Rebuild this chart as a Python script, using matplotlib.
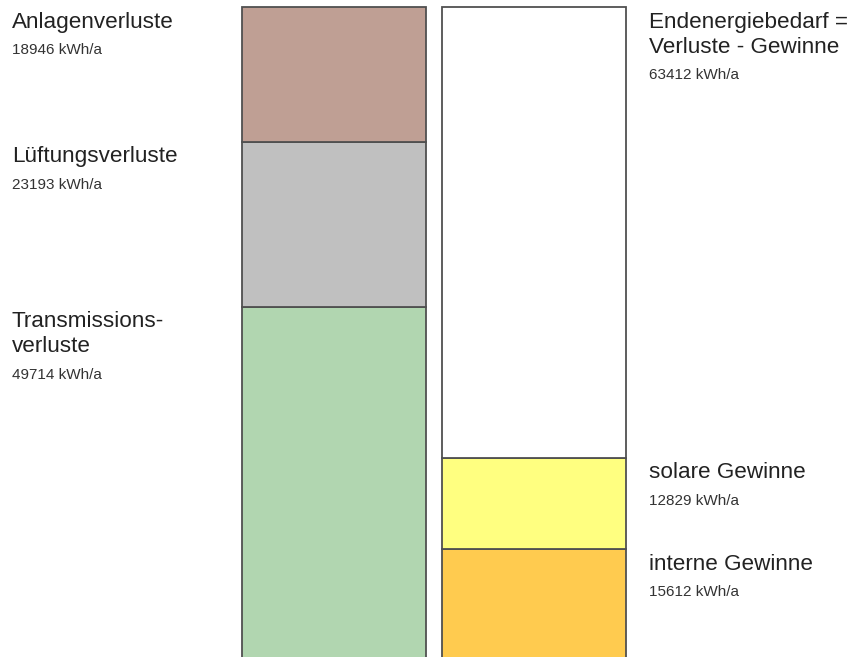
import numpy as np
import matplotlib
matplotlib.use("Agg")
import matplotlib.pyplot as plt

plt.rcParams["font.family"] = ["Liberation Sans", "DejaVu Sans"]

# --------------------------------------------------------------
# DATEN (kWh/a)
# --------------------------------------------------------------
# Linke Säule: Verluste (von unten nach oben)
loss_labels = ["Transmissions-\nverluste", "Lüftungsverluste", "Anlagenverluste"]
loss_values = [49714, 23193, 18946]
loss_colors = ["#b1d6b0", "#c0c0c0", "#bf9f94"]

# Rechte Säule: Gewinne + Endenergiebedarf (von unten nach oben)
gain_labels = ["interne Gewinne", "solare Gewinne", "Endenergiebedarf =\nVerluste - Gewinne"]
gain_values = [15612, 12829, 63412]
gain_colors = ["#ffcb4f", "#ffff80", "#ffffff"]

unit = "kWh/a"

# --------------------------------------------------------------
# ZEICHNEN
# --------------------------------------------------------------
fig = plt.figure(figsize=(8.61, 6.57), dpi=100)
ax = fig.add_axes([0, 0, 1, 1])

total = sum(loss_values)
px = 653 / total          # Pixel pro kWh/a, Säulen laufen unten aus dem Bild
ax.set_ylim(3 / px, total + 7 / px)
ax.set_xlim(-1.67, 2.635)
ax.axis("off")

edge = "#505050"
width = 0.92


def draw_stack(x, values, colors, labels, text_x):
    bottom = 0
    for val, col, lab in zip(values, colors, labels):
        ax.bar(x, val, width=width, bottom=bottom, color=col,
               edgecolor=edge, linewidth=1.3)
        top = bottom + val
        lines = lab.split("\n")
        # Beschriftung zeilenweise, damit der Abstand fest bleibt
        for i, line in enumerate(lines):
            ax.annotate(line, xy=(text_x, top), xycoords=("figure pixels", "data"),
                        xytext=(0, -15 - 25 * i), textcoords="offset pixels",
                        ha="left", va="center", fontsize=16.2, color="#222222")
        ax.annotate(f"{val} {unit}", xy=(text_x, top),
                    xycoords=("figure pixels", "data"),
                    xytext=(0, -43 - 25 * (len(lines) - 1)), textcoords="offset pixels",
                    ha="left", va="center", fontsize=11, color="#333333")
        bottom = top


draw_stack(0, loss_values, loss_colors, loss_labels, 12)
draw_stack(1, gain_values, gain_colors, gain_labels, 649)

plt.savefig("out.png", dpi=100)
